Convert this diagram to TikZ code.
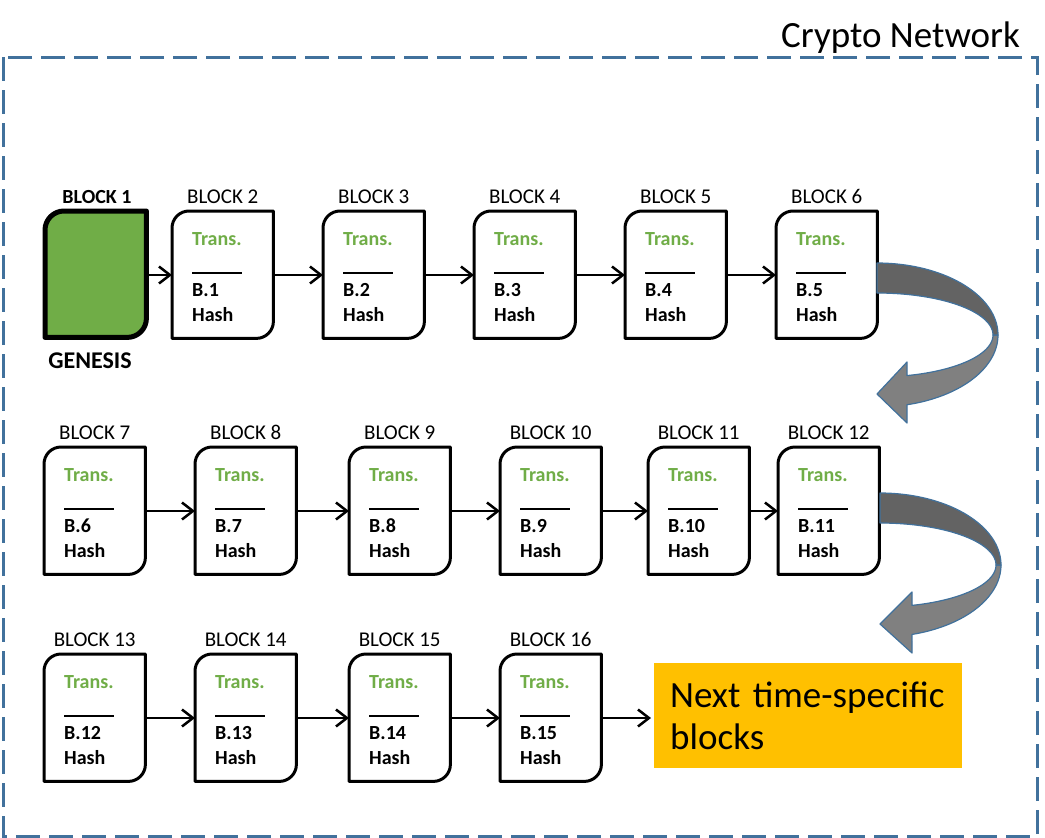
\documentclass[tikz,border=0pt]{standalone}
\usepackage{fontspec}
\setmainfont{Carlito}
\usetikzlibrary{arrows.meta,calc}
\definecolor{frameblue}{HTML}{41719C}
\definecolor{transgreen}{HTML}{70AD47}
\definecolor{darkband}{HTML}{636363}
\definecolor{lightband}{HTML}{808080}
\definecolor{nextorange}{HTML}{FFC000}

% shape with rounded top-left and bottom-right corners
\newcommand\diagbox[3]{% options, node name, radius
  \draw[#1] (#2.south west) -- ($(#2.north west)+(0,#3)$)
     .. controls ($(#2.north west)+(0,0.45*#3)$) and ($(#2.north west)+(0.45*#3,0)$) .. ($(#2.north west)+(#3,0)$)
     -- (#2.north east) -- ($(#2.south east)+(0,-#3)$)
     .. controls ($(#2.south east)+(0,-0.45*#3)$) and ($(#2.south east)+(-0.45*#3,0)$) .. ($(#2.south east)+(-#3,0)$) -- cycle;
}

\newcommand\blockbox[5]{% name, left, top, label, previous number
  \node[blk] (#1) at (#2,#3) {};
  \diagbox{blkline}{#1}{17}
  \node[trans] (#1t) at ($(#1.north west)+(20,34)$) {Trans.};
  \draw[sepline] ($(#1.north west)+(20,62)$) -- ++(50,0);
  \node[hashtxt] (#1b) at ($(#1.north west)+(20,85)$) {B.#5};
  \node[hashtxt] (#1h) at ($(#1.north west)+(20,110)$) {Hash};
  \node[lbl] (#1l) at ($(#1.north)+(0,-8)$) {#4};
  \coordinate (#1in) at ($(#1.north west)+(0,64)$);
  \coordinate (#1out) at ($(#1.north east)+(0,64)$);
}

\newcommand\bandarrow[5]{% cx, cy, base offset, outer end angle, inner end angle
  \path[fill=lightband, draw=frameblue, line width=1.2pt, line join=round]
    plot[domain=0:-#4, samples=40] ({#1+121*cos(\x)},{#2-72*sin(\x)})
    -- (#1+#3,#2+88) -- (#1,#2+59) -- (#1+#3,#2+27)
    -- plot[domain=-#5:0, samples=40] ({#1+116*cos(\x)},{#2-42*sin(\x)}) -- cycle;
  \path[fill=darkband, draw=frameblue, line width=1.2pt, line join=round]
    plot[domain=90:0, samples=40] ({#1+121*cos(\x)},{#2-72*sin(\x)})
    -- plot[domain=0:90, samples=40] ({#1+116*cos(\x)},{#2-42*sin(\x)}) -- cycle;
}

\begin{document}
\begin{tikzpicture}[x=1pt,y=-1pt,
  blk/.style={minimum width=101pt,minimum height=127pt,inner sep=0pt,anchor=north west,draw=none},
  blkline/.style={line width=3pt,draw=black,fill=white,line join=round},
  genline/.style={line width=5pt,draw=black,fill=transgreen,line join=round},
  sepline/.style={line width=2pt,draw=black},
  lbl/.style={font=\fontsize{21}{25}\selectfont,anchor=base,inner sep=0pt},
  trans/.style={font=\bfseries\fontsize{20}{24}\selectfont,text=transgreen,anchor=base west,inner sep=0pt},
  hashtxt/.style={font=\bfseries\fontsize{20}{24}\selectfont,anchor=base west,inner sep=0pt},
  link/.style={line width=2.5pt,-{Straight Barb[length=11pt,width=17pt]}}
]
\useasboundingbox (0,0) rectangle (1045,838);

% frame
\draw[frameblue,line width=3pt,dash pattern=on 24pt off 9pt] (3,57) rectangle (1037,836);
\node[anchor=base east,inner sep=0pt,font=\fontsize{37}{42}\selectfont] (title) at (1020,47) {Crypto Network};

% genesis
\node[blk,minimum width=101pt,minimum height=126pt] (g) at (45,211) {};
\diagbox{genline}{g}{19}
\node[anchor=base,inner sep=0pt,font=\bfseries\fontsize{20}{24}\selectfont] (gl) at (97,203) {BLOCK 1};
\node[anchor=base,inner sep=0pt,font=\bfseries\fontsize{24}{28}\selectfont] (gname) at (90,368) {GENESIS};
\coordinate (gout) at ($(g.north east)+(0,64)$);

% row 1
\blockbox{b2}{172}{211}{BLOCK 2}{1}
\blockbox{b3}{323}{211}{BLOCK 3}{2}
\blockbox{b4}{474}{211}{BLOCK 4}{3}
\blockbox{b5}{625}{211}{BLOCK 5}{4}
\blockbox{b6}{776}{211}{BLOCK 6}{5}

% row 2
\blockbox{b7}{44}{447}{BLOCK 7}{6}
\blockbox{b8}{195}{447}{BLOCK 8}{7}
\blockbox{b9}{349}{447}{BLOCK 9}{8}
\blockbox{b10}{500}{447}{BLOCK 10}{9}
\blockbox{b11}{648}{447}{BLOCK 11}{10}
\blockbox{b12}{778}{447}{BLOCK 12}{11}

% row 3
\blockbox{b13}{44}{654}{BLOCK 13}{12}
\blockbox{b14}{195}{654}{BLOCK 14}{13}
\blockbox{b15}{349}{654}{BLOCK 15}{14}
\blockbox{b16}{500}{654}{BLOCK 16}{15}

% next box
\node[fill=nextorange,anchor=north west,minimum width=308pt,minimum height=105pt,
      inner xsep=16pt,inner ysep=0pt,text width=276pt,align=left,
      font=\fontsize{37}{42}\selectfont] (next) at (654,663) {Next time-specific\\blocks};

% links
\draw[link] (gout) -- (b2in);
\draw[link] (b2out) -- (b3in);
\draw[link] (b3out) -- (b4in);
\draw[link] (b4out) -- (b5in);
\draw[link] (b5out) -- (b6in);
\draw[link] (b7out) -- (b8in);
\draw[link] (b8out) -- (b9in);
\draw[link] (b9out) -- (b10in);
\draw[link] (b10out) -- (b11in);
\draw[link] (b11out) -- (b12in);
\draw[link] (b13out) -- (b14in);
\draw[link] (b14out) -- (b15in);
\draw[link] (b15out) -- (b16in);
\draw[link,shorten >=3pt] (b16out) -- (b16out -| next.west);

% curved arrows
\bandarrow{877}{335}{30}{75.64}{75.01}
\bandarrow{880}{565}{32}{74.67}{73.99}
\end{tikzpicture}
\end{document}
